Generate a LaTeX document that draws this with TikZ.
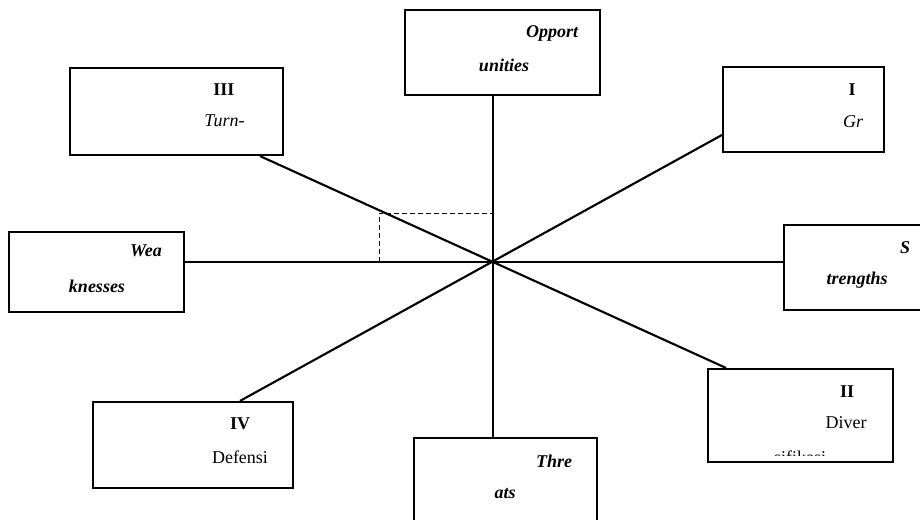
\documentclass[tikz,border=0pt]{standalone}
\usepackage{fontspec}
\setmainfont{Liberation Serif}
\usetikzlibrary{positioning}

\tikzset{
  box/.style={draw, line width=1.6pt, fill=white, inner sep=0pt},
  lbl/.style={inner sep=0pt, anchor=base, font=\fontsize{13.5}{16}\selectfont},
  swot/.style={lbl, font=\fontsize{13.5}{16}\selectfont\bfseries\itshape},
  axis/.style={line width=1.6pt},
}

\begin{document}
\begin{tikzpicture}[x=0.75pt, y=-0.75pt]
  \useasboundingbox (0,0) rectangle (920,520);
  \clip (0,0) rectangle (920,520);
  \coordinate (C) at (493,262);

  % Dashed guide
  \draw[dashed, line width=0.7pt, dash pattern=on 3.5pt off 2.5pt] (379,262) -- (379,213) -- (493,213);

  % Boxes
  \node[box, minimum width=195*0.75pt, minimum height=85*0.75pt] (opp) at (502.5,52.5) {};
  \node[box, minimum width=213*0.75pt, minimum height=87*0.75pt] (q3) at (176.5,111.5) {};
  \node[box, minimum width=161*0.75pt, minimum height=85*0.75pt] (q1) at (803.5,109.5) {};
  \node[box, minimum width=175*0.75pt, minimum height=80*0.75pt] (wea) at (96.5,272) {};
  \node[box, minimum width=146*0.75pt, minimum height=85*0.75pt] (str) at (857,267.5) {};
  \node[box, minimum width=185*0.75pt, minimum height=93*0.75pt] (q2) at (800.5,415.5) {};
  \node[box, minimum width=200*0.75pt, minimum height=86*0.75pt] (q4) at (193,445) {};
  \node[box, minimum width=183*0.75pt, minimum height=92*0.75pt] (thr) at (505.5,484) {};

  % Axes
  \draw[axis] (opp.south -| C) -- (thr.north -| C);
  \draw[axis] (wea.east |- C) -- (str.west |- C);
  \draw[axis] (q3.south -| 260,0) -- (q2.north -| 726,0);
  \draw[axis] (q1.west |- 0,135) -- (q4.north -| 240,0);

  % Labels
  \node[swot] (oppA) at (552,38) {Opport};
  \node[swot] (oppB) at (504,72) {unities};
  \node[lbl, font=\fontsize{13.5}{16}\selectfont\bfseries] (q3A) at (224,96) {III};
  \node[lbl, font=\fontsize{13.5}{16}\selectfont\itshape] (q3B) at (224.5,127) {Turn-};
  \node[lbl, font=\fontsize{13.5}{16}\selectfont\bfseries] (q1A) at (852,96) {I};
  \node[lbl, font=\fontsize{13.5}{16}\selectfont\itshape] (q1B) at (853,128) {Gr};
  \node[swot] (weaA) at (146,257) {Wea};
  \node[swot] (weaB) at (97,292) {knesses};
  \node[swot] (strA) at (905,253) {S};
  \node[swot] (strB) at (857,284) {trengths};
  \node[lbl, font=\fontsize{13.5}{16}\selectfont\bfseries] (q4A) at (240,429) {IV};
  \node[lbl] (q4B) at (240,463) {Defensi};
  \node[swot] (thrA) at (554,467) {Thre};
  \node[swot] (thrB) at (505,498) {ats};
  \node[lbl, font=\fontsize{13.5}{16}\selectfont\bfseries] (q2A) at (847,397) {II};
  \node[lbl] (q2B) at (846,428) {Diver};
  \begin{scope}
    \clip (710,371) rectangle (891,455);
    \node[lbl] (q2C) at (800,463) {sifikasi};
  \end{scope}
\end{tikzpicture}
\end{document}
